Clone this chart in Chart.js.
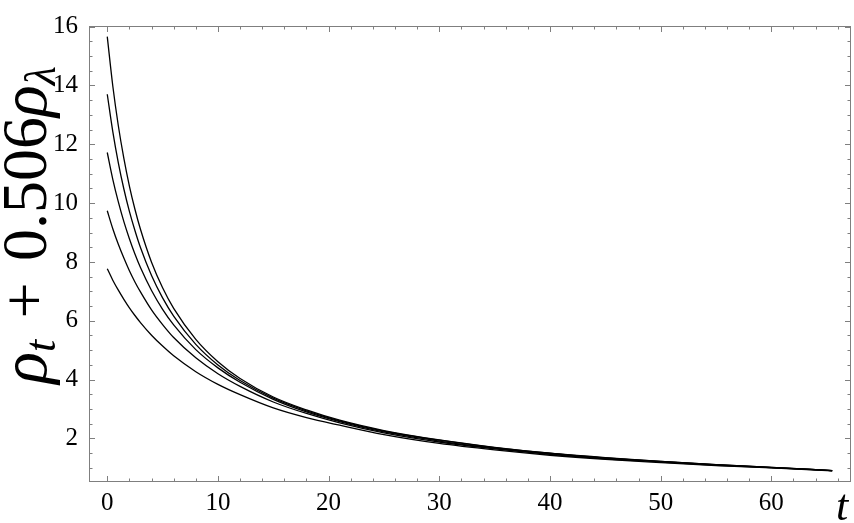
<!DOCTYPE html>
<html>
<head>
<meta charset="utf-8">
<script src="https://cdn.jsdelivr.net/npm/chart.js@4.4.0/dist/chart.umd.min.js"></script>
<style>
  body { margin: 0; background: #fff; }
  #contenedor { width: 854px; height: 523px; position: relative; }
</style>
</head>
<body>
<div id="contenedor"><canvas id="grafico"></canvas></div>
<script>
// Valores
const tiempos = [0, 0.5, 1, 1.5, 2, 2.5, 3, 4, 5, 6, 8, 10, 12, 15, 18, 21, 25, 30, 35, 40, 45, 50, 55, 60, 65.5];
const curva1 = [15.66, 13.98, 12.63, 11.52, 10.58, 9.79, 9.11, 7.99, 7.12, 6.42, 5.37, 4.61, 4.04, 3.41, 2.97, 2.62, 2.27, 1.95, 1.70, 1.50, 1.35, 1.22, 1.11, 1.02, 0.91];
const curva2 = [13.70, 12.43, 11.37, 10.48, 9.72, 9.07, 8.49, 7.54, 6.78, 6.16, 5.20, 4.50, 3.97, 3.37, 2.94, 2.60, 2.25, 1.94, 1.69, 1.50, 1.34, 1.22, 1.11, 1.02, 0.91];
const curva3 = [11.72, 10.81, 10.04, 9.37, 8.79, 8.27, 7.81, 7.03, 6.39, 5.86, 5.02, 4.40, 3.91, 3.33, 2.90, 2.57, 2.22, 1.91, 1.67, 1.48, 1.33, 1.21, 1.10, 1.01, 0.91];
const curva4 = [9.74, 9.13, 8.60, 8.13, 7.70, 7.32, 6.98, 6.37, 5.87, 5.43, 4.74, 4.20, 3.77, 3.24, 2.85, 2.53, 2.19, 1.88, 1.65, 1.46, 1.31, 1.20, 1.09, 1.01, 0.91];
const curva5 = [7.77, 7.38, 7.04, 6.73, 6.44, 6.18, 5.94, 5.51, 5.14, 4.81, 4.27, 3.84, 3.49, 3.04, 2.71, 2.45, 2.13, 1.83, 1.61, 1.43, 1.29, 1.18, 1.08, 1.00, 0.90];

// Marcas de los ejes
const ticksX = [0, 10, 20, 30, 40, 50, 60];
const ticksY = [2, 4, 6, 8, 10, 12, 14, 16];
const menoresX = [];
for (let v = 0; v <= 66; v += 2) menoresX.push(v);
const menoresY = [];
for (let v = 1; v <= 16; v += 0.5) menoresY.push(v);

const fuente = '"Liberation Serif", "DejaVu Serif", serif';

// Marco con marcas hacia dentro y títulos de los ejes (con subíndices)
const marcoPlugin = {
    id: 'marco',
    afterDraw(chart) {
        const { ctx, chartArea: a, scales: { x, y } } = chart;
        ctx.save();
        ctx.strokeStyle = '#7f7f7f';
        ctx.lineWidth = 1;
        ctx.strokeRect(a.left + 0.5, a.top + 0.5, a.right - a.left - 1, a.bottom - a.top - 1);

        ctx.beginPath();
        menoresX.forEach(v => {
            const px = Math.round(x.getPixelForValue(v)) + 0.5;
            const largo = ticksX.includes(v) ? 6 : 3.5;
            ctx.moveTo(px, a.bottom); ctx.lineTo(px, a.bottom - largo);
            ctx.moveTo(px, a.top); ctx.lineTo(px, a.top + largo);
        });
        menoresY.forEach(v => {
            const py = Math.round(y.getPixelForValue(v)) + 0.5;
            const largo = ticksY.includes(v) ? 6 : 3.5;
            ctx.moveTo(a.left, py); ctx.lineTo(a.left + largo, py);
            ctx.moveTo(a.right, py); ctx.lineTo(a.right - largo, py);
        });
        ctx.stroke();

        // Título del eje y: ρ_t + 0.506ρ_λ
        ctx.fillStyle = '#000';
        ctx.textBaseline = 'alphabetic';
        const partes = [
            { t: 'ρ', f: 'italic 66px ' + fuente, dy: 0 },
            { t: 't', f: 'italic 44px ' + fuente, dy: 9 },
            { t: '\u2004+\u2004', f: '64px ' + fuente, dy: 0 },
            { t: '0.506', f: '64px ' + fuente, dy: 0 },
            { t: 'ρ', f: 'italic 66px ' + fuente, dy: 0 },
            { t: 'λ', f: 'italic 44px ' + fuente, dy: 9 }
        ];
        let total = 0;
        partes.forEach(p => { ctx.font = p.f; p.w = ctx.measureText(p.t).width; total += p.w; });
        ctx.save();
        ctx.translate(46, 225);
        ctx.rotate(-Math.PI / 2);
        let cx = -total / 2;
        partes.forEach(p => { ctx.font = p.f; ctx.fillText(p.t, cx, p.dy); cx += p.w; });
        ctx.restore();

        // Título del eje x: t
        ctx.font = 'italic 44px ' + fuente;
        ctx.textAlign = 'center';
        ctx.fillText('t', 842, 520);
        ctx.restore();
    }
};

document.addEventListener('DOMContentLoaded', function () {
    const series = [curva1, curva2, curva3, curva4, curva5];
    const ctx = document.getElementById('grafico').getContext('2d');
    new Chart(ctx, {
        type: 'line',
        data: {
            datasets: series.map(s => ({
                data: tiempos.map((t, i) => ({ x: t, y: s[i] })),
                borderColor: '#000',
                borderWidth: 1.3,
                pointRadius: 0,
                fill: false,
                cubicInterpolationMode: 'monotone'
            }))
        },
        options: {
            responsive: true,
            maintainAspectRatio: false,
            animation: false,
            layout: { padding: { top: 11, right: 3, left: 0, bottom: 0 } },
            plugins: { legend: { display: false }, tooltip: { enabled: false } },
            scales: {
                x: {
                    type: 'linear',
                    min: -1.65,
                    max: 67.2,
                    grid: { display: false, drawTicks: false },
                    border: { display: false },
                    afterBuildTicks: s => { s.ticks = ticksX.map(v => ({ value: v })); },
                    afterFit: s => { s.height = 41; },
                    ticks: { color: '#000', font: { family: fuente, size: 25 }, padding: 6, maxRotation: 0, autoSkip: false }
                },
                y: {
                    type: 'linear',
                    min: 0.52,
                    max: 16.02,
                    grid: { display: false, drawTicks: false },
                    border: { display: false },
                    afterBuildTicks: s => { s.ticks = ticksY.map(v => ({ value: v })); },
                    afterFit: s => { s.width = 89; },
                    ticks: { color: '#000', font: { family: fuente, size: 25 }, padding: 11, autoSkip: false }
                }
            }
        },
        plugins: [marcoPlugin]
    });
});
</script>
</body>
</html>
